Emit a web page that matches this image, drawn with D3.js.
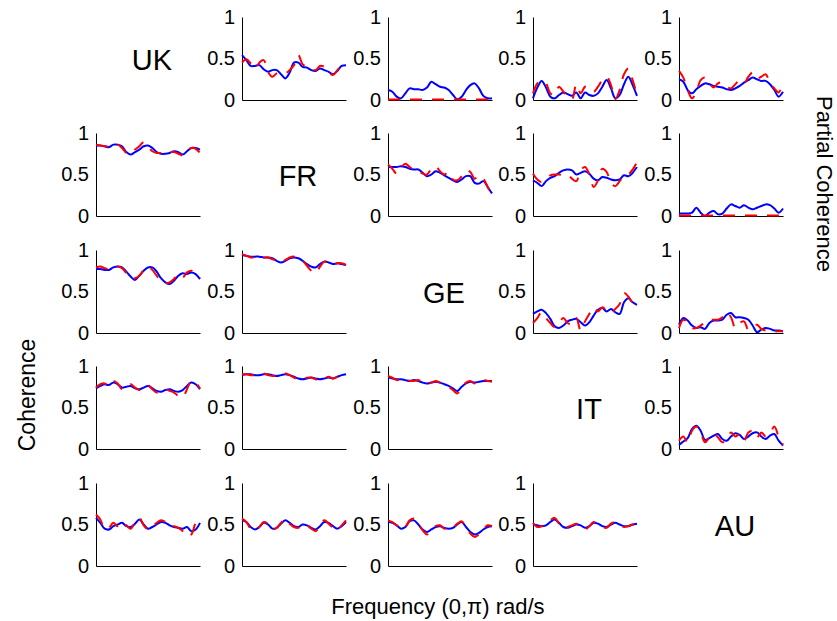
<!DOCTYPE html>
<html>
<head>
<meta charset="utf-8">
<script src="https://cdn.jsdelivr.net/npm/d3@7"></script>
<style>
  html, body { margin: 0; padding: 0; background: #fff; }
  svg { display: block; font-family: "Liberation Sans", Arial, sans-serif; }
</style>
</head>
<body>
<svg id="chart" width="837" height="621"></svg>
<script>
// ---------- data ----------
const countries = ["UK", "FR", "GE", "IT", "AU"];
const yTickValues = [0, 0.5, 1];
const yTickLabels = ["0", "0.5", "1"];
const xTitle = "Frequency (0,\u03c0) rad/s";
const leftTitle = "Coherence";
const rightTitle = "Partial Coherence";

// upper triangle: partial coherence (row country vs column country)
const solid_UK_FR = [0.54,0.48,0.41,0.41,0.42,0.37,0.34,0.36,0.36,0.31,0.26,0.33,0.45,0.45,0.40,0.39,0.36,0.35,0.38,0.36,0.34,0.31,0.35,0.41,0.42];
const dashed_UK_FR = [0.45,0.49,0.44,0.38,0.45,0.48,0.34,0.28,0.32,0.33,0.32,0.36,0.42,0.54,0.43,0.40,0.37,0.36,0.41,0.40,0.34,0.30,0.36,0.41,0.42];
const solid_UK_GE = [0.12,0.10,0.04,0.02,0.08,0.14,0.13,0.13,0.12,0.15,0.22,0.19,0.16,0.15,0.12,0.06,0.01,0.04,0.12,0.18,0.20,0.14,0.05,0.02,0.02];
const dashed_UK_GE = [0.005,0.005,0.005,0.005,0.005,0.005,0.005,0.005,0.005,0.005,0.005,0.005,0.005,0.005,0.005,0.005,0.005,0.005,0.005,0.005,0.005,0.005,0.005,0.005,0.005];
const solid_UK_IT = [0.02,0.15,0.23,0.15,0.04,0.02,0.06,0.09,0.07,0.05,0.09,0.02,0.09,0.06,0.05,0.08,0.16,0.24,0.14,0.02,0.06,0.19,0.28,0.18,0.05];
const dashed_UK_IT = [0.08,0.20,0.23,0.20,0.08,0.06,0.16,0.10,0.03,0.01,0.19,0.08,0.16,0.15,0.10,0.16,0.24,0.28,0.18,0.01,0.12,0.31,0.38,0.24,0.06];
const solid_UK_AU = [0.25,0.22,0.12,0.08,0.13,0.17,0.20,0.19,0.17,0.16,0.15,0.13,0.12,0.14,0.17,0.21,0.24,0.27,0.25,0.23,0.23,0.19,0.12,0.04,0.10];
const dashed_UK_AU = [0.35,0.27,0.12,0.02,0.10,0.24,0.27,0.20,0.15,0.20,0.21,0.16,0.14,0.19,0.24,0.20,0.28,0.33,0.26,0.28,0.31,0.20,0.14,0.09,0.23];
const solid_FR_GE = [0.59,0.59,0.59,0.60,0.59,0.57,0.56,0.56,0.52,0.48,0.50,0.54,0.52,0.49,0.46,0.43,0.41,0.44,0.48,0.48,0.40,0.39,0.42,0.35,0.27];
const dashed_FR_GE = [0.62,0.57,0.51,0.58,0.63,0.59,0.56,0.55,0.51,0.50,0.57,0.60,0.54,0.50,0.53,0.44,0.43,0.48,0.55,0.53,0.45,0.49,0.45,0.35,0.24];
const solid_FR_IT = [0.43,0.40,0.36,0.42,0.46,0.48,0.52,0.55,0.56,0.55,0.50,0.52,0.54,0.51,0.45,0.43,0.47,0.46,0.44,0.43,0.44,0.49,0.48,0.52,0.59];
const dashed_FR_IT = [0.51,0.44,0.41,0.45,0.49,0.50,0.50,0.49,0.50,0.45,0.42,0.55,0.59,0.50,0.35,0.43,0.57,0.53,0.40,0.36,0.42,0.48,0.50,0.56,0.65];
const solid_FR_AU = [0.03,0.03,0.03,0.04,0.10,0.04,0.00,0.04,0.06,0.02,0.03,0.09,0.14,0.12,0.10,0.13,0.10,0.08,0.10,0.12,0.14,0.13,0.09,0.04,0.09];
const dashed_FR_AU = [0.005,0.005,0.005,0.005,0.005,0.005,0.005,0.005,0.005,0.005,0.005,0.005,0.005,0.005,0.005,0.005,0.005,0.005,0.005,0.005,0.005,0.005,0.005,0.005,0.005];
const solid_GE_IT = [0.23,0.26,0.28,0.24,0.17,0.08,0.06,0.09,0.14,0.16,0.17,0.13,0.09,0.13,0.21,0.28,0.30,0.26,0.29,0.25,0.23,0.37,0.42,0.37,0.34];
const dashed_GE_IT = [0.12,0.18,0.25,0.18,0.12,0.07,0.12,0.18,0.12,0.10,0.18,0.03,0.14,0.23,0.31,0.26,0.31,0.27,0.24,0.29,0.35,0.48,0.44,0.36,0.33];
const solid_GE_AU = [0.10,0.18,0.15,0.09,0.06,0.07,0.05,0.12,0.15,0.15,0.16,0.22,0.24,0.19,0.19,0.18,0.16,0.09,0.01,0.04,0.06,0.05,0.03,0.03,0.02];
const dashed_GE_AU = [0.06,0.16,0.12,0.06,0.06,0.09,0.13,0.16,0.16,0.16,0.19,0.25,0.19,0.06,0.12,0.14,0.04,0.08,0.10,0.05,0.03,0.03,0.02,0.02,0.02];
const solid_IT_AU = [0.05,0.09,0.13,0.24,0.28,0.22,0.11,0.13,0.16,0.18,0.12,0.10,0.15,0.19,0.17,0.12,0.15,0.19,0.20,0.15,0.12,0.16,0.18,0.10,0.04];
const dashed_IT_AU = [0.10,0.15,0.08,0.22,0.27,0.20,0.08,0.14,0.19,0.14,0.08,0.12,0.20,0.15,0.18,0.10,0.20,0.22,0.14,0.20,0.15,0.19,0.27,0.15,0.05];

// lower triangle: coherence
const solid_FR_UK = [0.85,0.85,0.84,0.83,0.86,0.86,0.84,0.77,0.74,0.77,0.80,0.84,0.85,0.82,0.77,0.75,0.75,0.76,0.78,0.77,0.74,0.78,0.82,0.82,0.80];
const dashed_FR_UK = [0.86,0.85,0.84,0.84,0.86,0.86,0.82,0.76,0.75,0.80,0.84,0.89,0.84,0.78,0.76,0.76,0.75,0.77,0.77,0.75,0.73,0.78,0.82,0.81,0.76];
const solid_GE_UK = [0.77,0.77,0.76,0.76,0.79,0.80,0.79,0.74,0.68,0.64,0.69,0.75,0.79,0.79,0.74,0.66,0.61,0.59,0.63,0.69,0.72,0.71,0.73,0.71,0.65];
const dashed_GE_UK = [0.79,0.80,0.78,0.77,0.80,0.80,0.78,0.72,0.66,0.66,0.69,0.76,0.80,0.76,0.69,0.63,0.60,0.61,0.65,0.71,0.67,0.73,0.75,0.72,0.66];
const solid_GE_FR = [0.94,0.93,0.92,0.92,0.92,0.91,0.91,0.90,0.87,0.85,0.87,0.90,0.91,0.90,0.87,0.83,0.80,0.79,0.83,0.86,0.85,0.83,0.84,0.83,0.82];
const dashed_GE_FR = [0.95,0.93,0.91,0.91,0.92,0.91,0.91,0.89,0.87,0.85,0.88,0.91,0.92,0.90,0.87,0.81,0.75,0.72,0.80,0.86,0.85,0.82,0.84,0.84,0.82];
const solid_IT_UK = [0.73,0.76,0.78,0.77,0.80,0.78,0.74,0.75,0.76,0.73,0.72,0.74,0.76,0.73,0.70,0.69,0.71,0.72,0.70,0.69,0.71,0.76,0.80,0.78,0.72];
const dashed_IT_UK = [0.74,0.78,0.79,0.76,0.82,0.79,0.72,0.73,0.78,0.74,0.71,0.73,0.77,0.72,0.68,0.70,0.72,0.70,0.68,0.64,0.62,0.72,0.82,0.80,0.73];
const solid_IT_FR = [0.89,0.90,0.90,0.89,0.89,0.90,0.90,0.89,0.88,0.89,0.90,0.89,0.87,0.85,0.84,0.85,0.86,0.85,0.84,0.85,0.86,0.85,0.87,0.89,0.90];
const dashed_IT_FR = [0.90,0.90,0.89,0.89,0.90,0.91,0.89,0.88,0.88,0.89,0.91,0.89,0.86,0.84,0.84,0.86,0.86,0.84,0.83,0.85,0.87,0.85,0.87,0.90,0.91];
const solid_IT_GE = [0.86,0.85,0.84,0.84,0.83,0.82,0.83,0.82,0.80,0.79,0.80,0.81,0.80,0.78,0.76,0.73,0.70,0.75,0.79,0.81,0.80,0.81,0.82,0.82,0.82];
const dashed_IT_GE = [0.88,0.86,0.83,0.84,0.85,0.82,0.82,0.83,0.81,0.79,0.80,0.82,0.80,0.77,0.75,0.71,0.67,0.73,0.80,0.82,0.79,0.80,0.83,0.82,0.81];
const solid_AU_UK = [0.58,0.52,0.45,0.44,0.48,0.50,0.52,0.48,0.47,0.51,0.56,0.50,0.45,0.47,0.50,0.53,0.52,0.49,0.47,0.46,0.45,0.47,0.42,0.44,0.52];
const dashed_AU_UK = [0.62,0.56,0.45,0.46,0.52,0.48,0.53,0.49,0.45,0.52,0.58,0.49,0.44,0.48,0.52,0.55,0.53,0.47,0.48,0.46,0.42,0.36,0.38,0.52,0.58];
const solid_AU_FR = [0.55,0.53,0.47,0.44,0.47,0.52,0.50,0.45,0.46,0.51,0.55,0.52,0.48,0.47,0.50,0.49,0.46,0.44,0.48,0.53,0.52,0.48,0.45,0.48,0.53];
const dashed_AU_FR = [0.57,0.53,0.45,0.43,0.47,0.53,0.51,0.44,0.46,0.52,0.57,0.51,0.47,0.46,0.51,0.49,0.45,0.42,0.49,0.55,0.51,0.46,0.43,0.49,0.55];
const solid_AU_GE = [0.53,0.52,0.49,0.45,0.47,0.54,0.55,0.50,0.44,0.41,0.44,0.47,0.48,0.46,0.45,0.46,0.50,0.53,0.47,0.41,0.38,0.40,0.44,0.47,0.48];
const dashed_AU_GE = [0.55,0.53,0.49,0.44,0.47,0.55,0.57,0.50,0.43,0.38,0.42,0.48,0.49,0.45,0.44,0.46,0.51,0.54,0.46,0.39,0.35,0.38,0.44,0.49,0.48];
const solid_AU_IT = [0.50,0.49,0.48,0.49,0.53,0.56,0.52,0.47,0.46,0.48,0.50,0.49,0.46,0.48,0.52,0.51,0.48,0.47,0.50,0.52,0.50,0.48,0.48,0.50,0.51];
const dashed_AU_IT = [0.52,0.47,0.48,0.50,0.55,0.58,0.51,0.45,0.47,0.49,0.51,0.48,0.44,0.48,0.53,0.50,0.47,0.46,0.51,0.53,0.49,0.47,0.48,0.50,0.51];

// lookup table built from the arrays above: "row-col" -> [solid, dashed]
const panels = {
  "UK-FR": [solid_UK_FR, dashed_UK_FR], "UK-GE": [solid_UK_GE, dashed_UK_GE],
  "UK-IT": [solid_UK_IT, dashed_UK_IT], "UK-AU": [solid_UK_AU, dashed_UK_AU],
  "FR-GE": [solid_FR_GE, dashed_FR_GE], "FR-IT": [solid_FR_IT, dashed_FR_IT],
  "FR-AU": [solid_FR_AU, dashed_FR_AU], "GE-IT": [solid_GE_IT, dashed_GE_IT],
  "GE-AU": [solid_GE_AU, dashed_GE_AU], "IT-AU": [solid_IT_AU, dashed_IT_AU],
  "FR-UK": [solid_FR_UK, dashed_FR_UK], "GE-UK": [solid_GE_UK, dashed_GE_UK],
  "GE-FR": [solid_GE_FR, dashed_GE_FR], "IT-UK": [solid_IT_UK, dashed_IT_UK],
  "IT-FR": [solid_IT_FR, dashed_IT_FR], "IT-GE": [solid_IT_GE, dashed_IT_GE],
  "AU-UK": [solid_AU_UK, dashed_AU_UK], "AU-FR": [solid_AU_FR, dashed_AU_FR],
  "AU-GE": [solid_AU_GE, dashed_AU_GE], "AU-IT": [solid_AU_IT, dashed_AU_IT]
};

// ---------- layout ----------
const svg = d3.select("#chart");
const colX = [96, 242, 388, 533, 679];
const rowY = [17, 133, 250, 366, 483];
const pw = 104, ph = 83;

const x = d3.scaleLinear().domain([0, 1]).range([0, pw]);
const y = d3.scaleLinear().domain([0, 1]).range([ph, 0]);
const line = d3.line()
  .x((d, i, arr) => x(i / (arr.length - 1)))
  .y(d => y(d))
  .curve(d3.curveCatmullRom.alpha(0.5));

countries.forEach((rc, r) => {
  countries.forEach((cc, c) => {
    const g = svg.append("g").attr("transform", `translate(${colX[c]},${rowY[r]})`);
    if (r === c) {
      g.append("text")
        .attr("x", pw / 2 + 4).attr("y", ph / 2 + 1)
        .attr("text-anchor", "middle")
        .attr("dominant-baseline", "central")
        .attr("font-size", 29)
        .text(rc);
      return;
    }
    const [solid, dashed] = panels[rc + "-" + cc];
    const yAxis = d3.axisLeft(y).tickValues(yTickValues)
      .tickFormat((d, i) => yTickLabels[i]).tickSize(0).tickPadding(7);
    const ya = g.append("g").call(yAxis);
    ya.select(".domain").attr("stroke", "#000").attr("stroke-width", 1);
    ya.selectAll("text").attr("font-size", 20).attr("fill", "#000")
      .attr("font-family", "Liberation Sans, Arial, sans-serif");
    const xAxis = d3.axisBottom(x).tickValues([]).tickSize(0);
    const xa = g.append("g").attr("transform", `translate(0,${ph})`).call(xAxis);
    xa.select(".domain").attr("stroke", "#000").attr("stroke-width", 1);

    g.append("path").datum(solid)
      .attr("fill", "none").attr("stroke", "#0000ff").attr("stroke-width", 2)
      .attr("d", line);
    g.append("path").datum(dashed)
      .attr("fill", "none").attr("stroke", "#ff0000").attr("stroke-width", 2)
      .attr("stroke-dasharray", "12,10")
      .attr("d", line);
  });
});

// titles
svg.append("text")
  .attr("x", 438).attr("y", 606)
  .attr("text-anchor", "middle").attr("dominant-baseline", "central")
  .attr("font-size", 22).text(xTitle);
svg.append("text")
  .attr("transform", "translate(27,395) rotate(-90)")
  .attr("text-anchor", "middle").attr("dominant-baseline", "central")
  .attr("font-size", 23).text(leftTitle);
svg.append("text")
  .attr("transform", "translate(824,184) rotate(90)")
  .attr("text-anchor", "middle").attr("dominant-baseline", "central")
  .attr("font-size", 22).text(rightTitle);
</script>
</body>
</html>
